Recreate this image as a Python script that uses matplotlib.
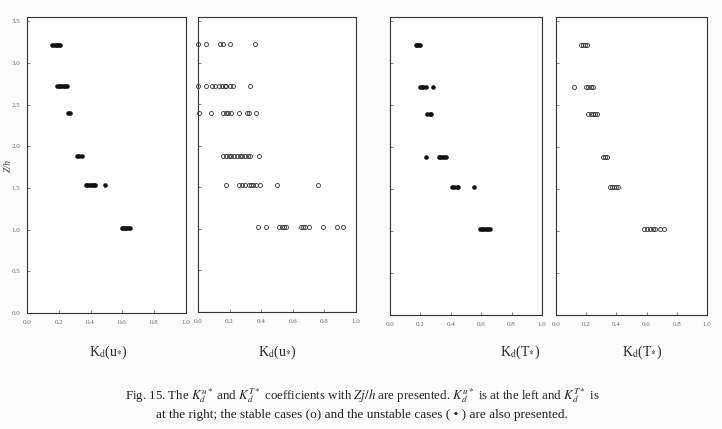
import numpy as np
import matplotlib
matplotlib.use("Agg")
import matplotlib.pyplot as plt

plt.rcParams['font.family'] = ['Liberation Serif', 'DejaVu Serif']
plt.rcParams['mathtext.fontset'] = 'stix'

# --- Data ---
# height levels Zj/h
z_levels = [3.22, 2.72, 2.40, 1.88, 1.53, 1.02]

# Kd(u*) unstable (filled dots), one list per height level
ku_unstable = [
    [0.16, 0.17, 0.18, 0.19, 0.20, 0.21],
    [0.19, 0.20, 0.21, 0.22, 0.23, 0.24, 0.25],
    [0.255, 0.27],
    [0.315, 0.33, 0.345],
    [0.37, 0.38, 0.39, 0.40, 0.41, 0.42, 0.43, 0.49],
    [0.595, 0.605, 0.615, 0.625, 0.635, 0.645],
]

# Kd(u*) stable (open circles)
ku_stable = [
    [0.0, 0.053, 0.14, 0.16, 0.20, 0.36],
    [0.0, 0.05, 0.09, 0.11, 0.13, 0.15, 0.17, 0.18, 0.20, 0.22, 0.33],
    [0.004, 0.08, 0.16, 0.175, 0.19, 0.21, 0.26, 0.31, 0.32, 0.37],
    [0.16, 0.18, 0.195, 0.21, 0.23, 0.245, 0.265, 0.28, 0.30, 0.315, 0.33, 0.385],
    [0.18, 0.26, 0.28, 0.30, 0.32, 0.335, 0.35, 0.37, 0.39, 0.50, 0.76],
    [0.38, 0.43, 0.51, 0.53, 0.545, 0.56, 0.65, 0.665, 0.68, 0.70, 0.79, 0.88, 0.92],
]

# Kd(T*) unstable (filled dots)
kt_unstable = [
    [0.17, 0.18, 0.19, 0.20],
    [0.20, 0.21, 0.22, 0.235, 0.28],
    [0.245, 0.26, 0.27],
    [0.24, 0.32, 0.33, 0.34, 0.355, 0.37],
    [0.405, 0.42, 0.44, 0.45, 0.55],
    [0.595, 0.605, 0.615, 0.625, 0.635, 0.645, 0.655],
]

# Kd(T*) stable (open circles)
kt_stable = [
    [0.165, 0.18, 0.195, 0.205],
    [0.12, 0.20, 0.215, 0.23, 0.245],
    [0.215, 0.23, 0.245, 0.26, 0.27],
    [0.31, 0.325, 0.34],
    [0.355, 0.37, 0.385, 0.40, 0.41],
    [0.585, 0.605, 0.625, 0.64, 0.655, 0.69, 0.715],
]

x_ticks = [0.0, 0.2, 0.4, 0.6, 0.8, 1.0]
y_ticks = [0.0, 0.5, 1.0, 1.5, 2.0, 2.5, 3.0, 3.5]
x_labels = [r'K$_{\mathrm{d}}$(u$_{*}$)', r'K$_{\mathrm{d}}$(u$_{*}$)',
            r'K$_{\mathrm{d}}$(T$_{*}$)', r'K$_{\mathrm{d}}$(T$_{*}$)']

W, H = 722, 429
fig = plt.figure(figsize=(W / 100, H / 100), dpi=100)
fig.patch.set_facecolor('#fbfbfb')

# panel frames in pixels: (left, right, top, bottom)
boxes = [(27, 186, 17, 313), (198, 356, 17, 312), (390, 542, 17, 315), (556, 707, 17, 315)]
datasets = [ku_unstable, ku_stable, kt_unstable, kt_stable]
filled = [True, False, True, False]
label_x = [108, 277, 520, 642]


def flatten(rows):
    xs, ys = [], []
    for z, row in zip(z_levels, rows):
        xs += row
        ys += [z] * len(row)
    return np.array(xs), np.array(ys)


for i, (l, r, t, b) in enumerate(boxes):
    ax = fig.add_axes([l / W, (H - b) / H, (r - l) / W, (b - t) / H])
    ax.set_facecolor('#fdfdfd')
    xs, ys = flatten(datasets[i])
    if filled[i]:
        ax.plot(xs, ys, 'o', ms=2.8, mfc='#111111', mec='#111111', mew=0.4, clip_on=False)
    else:
        ax.plot(xs, ys, 'o', ms=2.9, mfc='none', mec='#333333', mew=0.6, clip_on=False)
    ax.set_xlim(0, 1.0)
    ax.set_ylim(0, 3.55)
    ax.set_xticks(x_ticks)
    ax.set_xticklabels(['%.1f' % v for v in x_ticks])
    ax.set_yticks(y_ticks)
    if i == 0:
        ax.set_yticklabels(['%.1f' % v for v in y_ticks])
    else:
        ax.set_yticklabels([])
    ax.tick_params(direction='in', length=2.5, width=0.5, color='#555555',
                   labelsize=5, labelcolor='#666666', pad=5)
    for s in ax.spines.values():
        s.set_linewidth(0.8)
        s.set_color('#333333')
    fig.text(label_x[i] / W, 1 - 352 / H, x_labels[i], ha='center', va='center',
             fontsize=10, color='#222222')

fig.text(8 / W, 1 - 165 / H, 'Z/h', rotation=90, ha='center', va='center',
         fontsize=7, style='italic', color='#444444')

line1 = (r'Fig. 15. The $K_d^{u*}$ and $K_d^{T*}$ coefficients with $Zj/h$ are presented. '
         r'$K_d^{u*}$ is at the left and $K_d^{T*}$ is')
line2 = 'at the right; the stable cases (o) and the unstable cases ( \u2022 ) are also presented.'
fig.text(362 / W, 1 - 396 / H, line1, ha='center', va='center', fontsize=9.3, color='#222222')
fig.text(362 / W, 1 - 415 / H, line2, ha='center', va='center', fontsize=9.5, color='#222222')

fig.savefig('out.png', dpi=100, facecolor=fig.get_facecolor())
